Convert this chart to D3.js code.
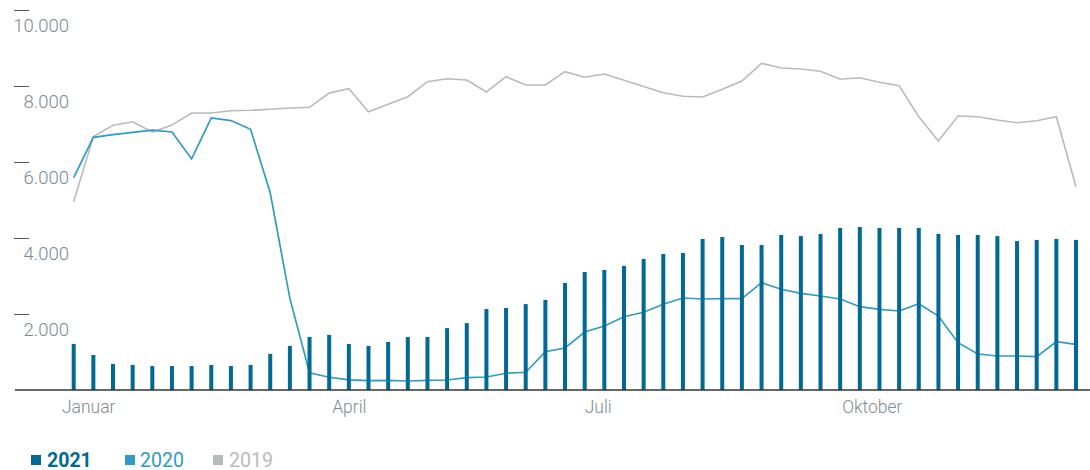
<html lang="de">

<head>
    <meta charset="utf-8">
    <title>Wochenwerte 2019 - 2021</title>
    <style>
        body {
            margin: 0;
            background: white;
        }

        svg {
            display: block;
        }

        .ylabel,
        .xlabel {
            font-family: Roboto, sans-serif;
            font-weight: 300;
            fill: #7a8b95;
        }

        .legend text {
            font-family: Roboto, sans-serif;
            font-size: 19.5px;
        }
    </style>
</head>

<body>
    <script src="https://d3js.org/d3.v7.min.js"></script>

    <div id="chart"></div>

    <script type="text/javascript">
        // week values (52 weeks)
        var values2021 = [1210, 920, 685, 660, 630, 630, 630, 660, 630, 660,
            950, 1160, 1395, 1450, 1210, 1160, 1265, 1395, 1395, 1630,
            1760, 2130, 2160, 2260, 2370, 2815, 3105, 3160, 3265, 3450,
            3580, 3605, 3975, 4025, 3815, 3815, 4080, 4050, 4105, 4265,
            4290, 4265, 4265, 4265, 4105, 4080, 4080, 4050, 3920, 3950,
            3975, 3950];

        var values2020 = [5590, 6650, 6720, 6780, 6840, 6790, 6080, 7160, 7090, 6860,
            5190, 2410, 455, 335, 265, 245, 255, 237, 255, 263,
            324, 342, 440, 466, 1008, 1105, 1526, 1684, 1929, 2045,
            2255, 2421, 2395, 2403, 2403, 2824, 2650, 2545, 2474, 2395,
            2192, 2124, 2079, 2271, 1947, 1245, 947, 895, 895, 876,
            1271, 1203];

        var values2019 = [4955, 6671, 6966, 7058, 6789, 6974, 7289, 7289, 7350, 7360,
            7387, 7421, 7439, 7816, 7929, 7324, 7518, 7718, 8113, 8192,
            8158, 7842, 8245, 8026, 8026, 8376, 8229, 8316, 8153, 7989,
            7824, 7729, 7711, 7913, 8132, 8597, 8474, 8447, 8387, 8176,
            8218, 8097, 8008, 7192, 6553, 7211, 7192, 7105, 7034, 7087,
            7192, 5350];

        var yTicks = [2000, 4000, 6000, 8000, 10000];
        var monthLabels = ["Januar", "April", "Juli", "Oktober"];
        var monthWeeks = [-0.6, 13.15, 26, 39.1];

        var legendNames = ["2021", "2020", "2019"];
        var legendColors = ["#006994", "#2e9cc3", "#b6bbbd"];

        var width = 1090;
        var height = 470;
        var baseY = 390;

        var svg = d3.select("#chart").append("svg")
            .attr("width", width)
            .attr("height", height);

        var xScale = d3.scaleLinear()
            .domain([0, 51])
            .range([73.7, 1076]);

        var yScale = d3.scaleLinear()
            .domain([0, 10000])
            .range([baseY, 10]);

        var fmt = function(v) {
            return d3.format(",")(v).replace(/,/g, ".");
        };

        draw_yaxis();
        draw_lines();
        draw_bars();
        draw_baseline();
        draw_months();
        draw_legend();

        function draw_yaxis() {
            var g = svg.append("g");

            g.selectAll("line")
                .data(yTicks)
                .enter()
                .append("line")
                .attr("x1", 14)
                .attr("x2", 29)
                .attr("y1", function(d) { return yScale(d) + 0.5; })
                .attr("y2", function(d) { return yScale(d) + 0.5; })
                .attr("stroke", "#555")
                .attr("stroke-width", 1);

            g.selectAll("text")
                .data(yTicks)
                .enter()
                .append("text")
                .attr("class", "ylabel")
                .attr("x", 69)
                .attr("y", function(d) { return yScale(d) + 21.5; })
                .attr("text-anchor", "end")
                .attr("font-size", "18.5px")
                .text(fmt);
        }

        function draw_lines() {
            var line = d3.line()
                .x(function(d, i) { return xScale(i); })
                .y(function(d) { return yScale(d); });

            svg.append("path")
                .datum(values2019)
                .attr("d", line)
                .attr("fill", "none")
                .attr("stroke", legendColors[2])
                .attr("stroke-width", 1.6);

            svg.append("path")
                .datum(values2020)
                .attr("d", line)
                .attr("fill", "none")
                .attr("stroke", legendColors[1])
                .attr("stroke-width", 1.7);
        }

        function draw_bars() {
            svg.append("g")
                .selectAll("rect")
                .data(values2021)
                .enter()
                .append("rect")
                .attr("x", function(d, i) { return xScale(i) - 2; })
                .attr("y", function(d) { return yScale(d); })
                .attr("width", 4)
                .attr("height", function(d) { return baseY - yScale(d); })
                .attr("fill", legendColors[0]);
        }

        function draw_baseline() {
            svg.append("line")
                .attr("x1", 15)
                .attr("x2", width)
                .attr("y1", baseY)
                .attr("y2", baseY)
                .attr("stroke", "#333")
                .attr("stroke-width", 1.5);
        }

        function draw_months() {
            svg.append("g")
                .selectAll("text")
                .data(monthLabels)
                .enter()
                .append("text")
                .attr("class", "xlabel")
                .attr("x", function(d, i) { return xScale(monthWeeks[i]); })
                .attr("y", 413)
                .attr("font-size", "17.5px")
                .text(function(d) { return d; });
        }

        function draw_legend() {
            var boxX = [31, 125, 213];
            var textX = [47, 140, 229];
            var g = svg.append("g").attr("class", "legend");

            legendNames.forEach(function(name, i) {
                g.append("rect")
                    .attr("x", boxX[i])
                    .attr("y", 455)
                    .attr("width", 10)
                    .attr("height", 10)
                    .attr("fill", legendColors[i]);

                g.append("text")
                    .attr("x", textX[i])
                    .attr("y", 466.5)
                    .attr("fill", legendColors[i])
                    .attr("font-weight", i == 0 ? 700 : 400)
                    .text(name);
            });
        }
    </script>
</body>

</html>
